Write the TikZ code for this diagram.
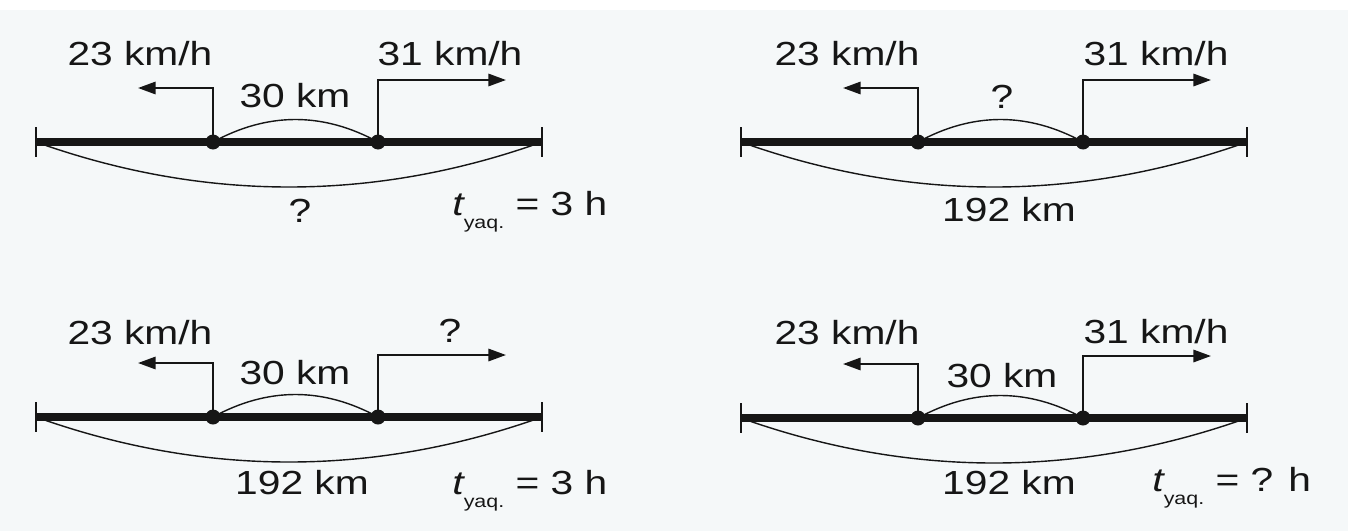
\documentclass[tikz,border=0pt]{standalone}
\usepackage{fontspec}
\setmainfont{Liberation Sans}
\definecolor{paper}{RGB}{245,248,249}
\definecolor{ink}{RGB}{22,22,22}
\usetikzlibrary{arrows.meta,positioning,calc}

\begin{document}
\begin{tikzpicture}[x=0.02cm,y=-0.02cm,
  road/.style={line width=4pt,ink},
  endmark/.style={line width=1.2pt,ink},
  car/.style={circle,fill=ink,inner sep=0pt,minimum size=0.3cm},
  speed/.style={-{Triangle[length=10pt,width=7pt]},line width=1.2pt,ink},
  gap/.style={line width=0.8pt,ink},
  lbl/.style={font=\fontsize{19}{23}\selectfont,xscale=1.22,text=ink,inner sep=0pt}]
  \useasboundingbox (0,0) rectangle (1348,531);
  \fill[white] (0,0) rectangle (1348,531);
  \fill[paper] (0,10) rectangle (1348,531);
  % road, two cars and the arcs, same in every panel
  \foreach \p/\x/\y in {1/36/142,2/741/142,3/36/417,4/741/418} {
    \begin{scope}[shift={(\x,\y)}]
      \coordinate (s\p) at (0,0);
      \coordinate (e\p) at (506,0);
      \node[car] (a\p) at (177,0) {};
      \node[car] (b\p) at (342,0) {};
      \coordinate (la\p) at (102,-54);
      \coordinate (ra\p) at (470,-62);
    \end{scope}
    \draw[road] (s\p) -- (e\p);
    \draw[endmark] (s\p) ++(0,-15) -- ++(0,30);
    \draw[endmark] (e\p) ++(0,-15) -- ++(0,30);
    \draw[gap] (a\p.center) .. controls +(55,-30) and +(-55,-30) .. (b\p.center);
    \draw[gap] (s\p) .. controls +(168,60) and +(-168,60) .. (e\p);
    \draw[speed] (a\p.center) |- (la\p);
    \draw[speed] (b\p.center) |- (ra\p);
  }
  % panel 1
  \node[lbl] (v1a) at (140,54) {23 km/h};
  \node[lbl] (v1b) at (450,54) {31 km/h};
  \node[lbl] (d1) at (295,96) {30 km};
  \node[lbl] (s1) at (300,211) {?};
  \node[lbl,anchor=base west] (t1) at (452,215)
    {\itshape t\raisebox{-7.5pt}{\upshape\fontsize{10}{10}\selectfont yaq.}\upshape\ = 3 h};
  % panel 2
  \node[lbl] (v2a) at (847,54) {23 km/h};
  \node[lbl] (v2b) at (1156,54) {31 km/h};
  \node[lbl] (d2) at (1002,97) {?};
  \node[lbl] (s2) at (1009,210) {192 km};
  % panel 3
  \node[lbl] (v3a) at (140,333) {23 km/h};
  \node[lbl] (v3b) at (450,331) {?};
  \node[lbl] (d3) at (295,373) {30 km};
  \node[lbl] (s3) at (302,483) {192 km};
  \node[lbl,anchor=base west] (t3) at (452,494)
    {\itshape t\raisebox{-7.5pt}{\upshape\fontsize{10}{10}\selectfont yaq.}\upshape\ = 3 h};
  % panel 4
  \node[lbl] (v4a) at (847,333) {23 km/h};
  \node[lbl] (v4b) at (1156,332) {31 km/h};
  \node[lbl] (d4) at (1002,376) {30 km};
  \node[lbl] (s4) at (1009,483) {192 km};
  \node[lbl,anchor=base west] (t4) at (1152,491)
    {\itshape t\raisebox{-7.5pt}{\upshape\fontsize{10}{10}\selectfont yaq.}\upshape\ = ? h};
\end{tikzpicture}
\end{document}
